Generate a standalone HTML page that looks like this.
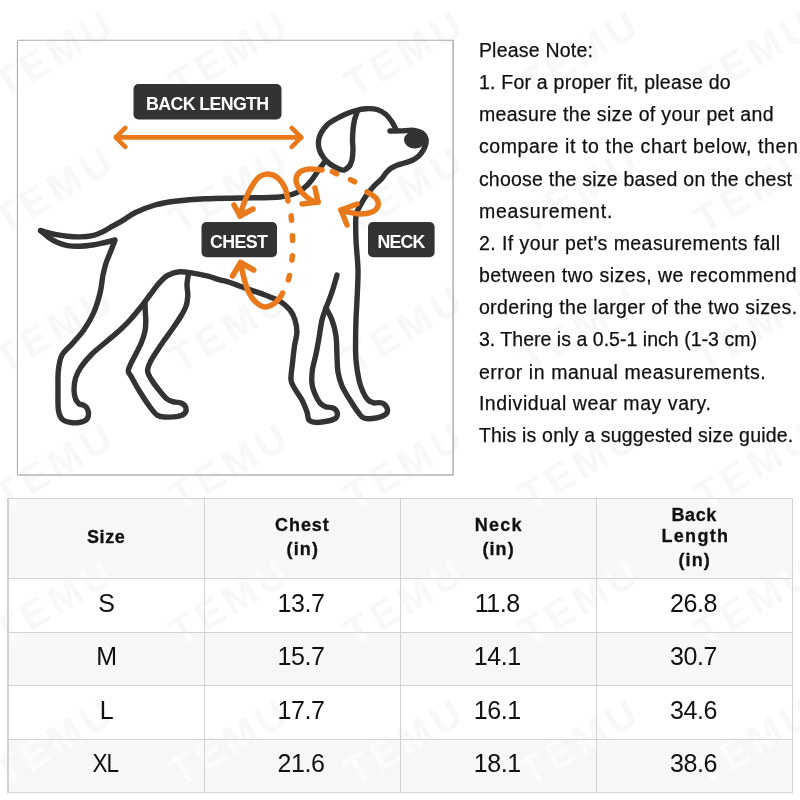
<!DOCTYPE html>
<html>
<head>
<meta charset="utf-8">
<title>Size Guide</title>
<style>
html,body{margin:0;padding:0;}
body{will-change:opacity;opacity:0.999;width:800px;height:800px;background:#fff;position:relative;overflow:hidden;font-family:"Liberation Sans",sans-serif;color:#111;}
.wm{position:absolute;font-weight:bold;font-size:40px;letter-spacing:5px;color:#f8f8f8;white-space:nowrap;transform:translate(-50%,-50%) rotate(-30.5deg);line-height:40px;}
#box{display:none;}
#art{position:absolute;left:0;top:0;width:800px;height:800px;}
.ln{position:absolute;left:480px;white-space:nowrap;font-size:19.5px;line-height:24px;height:24px;color:#111;-webkit-text-stroke:0.25px #111;}
#tbl{position:absolute;left:0;top:0;width:800px;height:800px;}
.cell{position:absolute;box-sizing:border-box;}
.wl{color:#fcfcfc;}
.hd{position:absolute;white-space:nowrap;-webkit-text-stroke:0.3px #111;font-weight:bold;font-size:18px;line-height:22px;height:22px;color:#111;}
.v{position:absolute;text-align:center;font-size:25px;line-height:30px;height:30px;color:#111;letter-spacing:-0.4px;}
</style>
</head>
<body>
<!-- watermarks -->
<div id="wms">
<div class="wm" style="left:55px;top:53px">TEMU</div>
<div class="wm" style="left:230px;top:53px">TEMU</div>
<div class="wm" style="left:405px;top:53px">TEMU</div>
<div class="wm" style="left:580px;top:53px">TEMU</div>
<div class="wm" style="left:755px;top:53px">TEMU</div>
<div class="wm" style="left:55px;top:189px">TEMU</div>
<div class="wm" style="left:230px;top:189px">TEMU</div>
<div class="wm" style="left:405px;top:189px">TEMU</div>
<div class="wm" style="left:580px;top:189px">TEMU</div>
<div class="wm" style="left:755px;top:189px">TEMU</div>
<div class="wm" style="left:55px;top:328px">TEMU</div>
<div class="wm" style="left:230px;top:328px">TEMU</div>
<div class="wm" style="left:405px;top:328px">TEMU</div>
<div class="wm" style="left:580px;top:328px">TEMU</div>
<div class="wm" style="left:755px;top:328px">TEMU</div>
<div class="wm" style="left:55px;top:465px">TEMU</div>
<div class="wm" style="left:230px;top:465px">TEMU</div>
<div class="wm" style="left:405px;top:465px">TEMU</div>
<div class="wm" style="left:580px;top:465px">TEMU</div>
<div class="wm" style="left:755px;top:465px">TEMU</div>
<div class="wm" style="left:55px;top:601px">TEMU</div>
<div class="wm" style="left:230px;top:601px">TEMU</div>
<div class="wm" style="left:405px;top:601px">TEMU</div>
<div class="wm" style="left:580px;top:601px">TEMU</div>
<div class="wm" style="left:755px;top:601px">TEMU</div>
<div class="wm" style="left:55px;top:741px">TEMU</div>
<div class="wm" style="left:230px;top:741px">TEMU</div>
<div class="wm" style="left:405px;top:741px">TEMU</div>
<div class="wm" style="left:580px;top:741px">TEMU</div>
<div class="wm" style="left:755px;top:741px">TEMU</div>
</div><!--/wms-->
<div id="box"></div>
<svg id="art" viewBox="0 0 800 800">
<path d="M17.4 475V41.8Q17.4 40.3 18.9 40.3H453.1" fill="none" stroke="#adadad" stroke-width="1.1"/><path d="M453.1 40V475H17.3" fill="none" stroke="#b5b5b5" stroke-width="1.6"/>
<g fill="none" stroke="#333333" stroke-width="5.4" stroke-linecap="round" stroke-linejoin="round">
<path d="M40.6 230.6C43.0 231.2 50.5 233.5 55.0 234.4C59.5 235.3 63.3 235.8 67.5 236.2C71.7 236.7 75.8 237.0 80.0 236.9C84.2 236.8 88.8 236.4 92.5 235.6C96.2 234.8 99.2 233.5 102.5 231.9C105.8 230.3 109.2 228.1 112.5 226.2C115.8 224.4 118.8 222.8 122.5 220.6C126.2 218.4 129.6 215.4 135.0 212.8C140.4 210.2 148.3 206.9 155.0 205.0C161.7 203.1 166.7 202.3 175.0 201.2C183.3 200.2 194.2 199.3 205.0 198.8C215.8 198.2 227.5 198.3 240.0 198.0C252.5 197.7 270.7 197.8 280.0 197.0C289.3 196.2 292.0 194.5 296.0 193.0C300.0 191.5 301.5 190.0 304.0 188.0C306.5 186.0 308.7 183.8 311.0 181.0C313.3 178.2 315.7 174.3 318.0 171.0C320.3 167.7 323.8 162.9 325.0 161.3"/>
<path d="M40.6 230.6C42.0 231.8 45.9 235.5 48.8 237.5C51.6 239.5 54.4 241.2 57.5 242.5C60.6 243.8 63.8 245.0 67.5 245.6C71.2 246.2 75.8 246.3 80.0 246.2C84.2 246.2 88.3 245.6 92.5 245.0C96.7 244.4 101.2 243.3 105.0 242.5C108.8 241.7 113.3 240.4 115.0 240.0C114.4 241.7 112.7 246.2 111.2 250.0C109.8 253.8 107.6 258.3 106.2 262.5C104.9 266.7 104.0 270.1 103.0 275.0C102.0 279.9 101.8 285.8 100.3 292.0C98.8 298.2 96.5 306.2 93.8 312.5C91.0 318.8 87.4 324.8 83.8 330.0C80.1 335.2 75.6 339.8 72.0 344.0C68.4 348.2 64.3 350.7 62.0 355.0C59.7 359.3 59.1 364.2 58.4 370.0C57.7 375.8 58.0 383.3 58.0 390.0C58.0 396.7 57.7 405.2 58.4 410.0C59.1 414.8 60.1 416.9 62.0 419.0C63.9 421.1 67.0 421.8 70.0 422.4C73.0 423.0 77.2 423.0 80.0 422.4C82.8 421.8 85.6 420.7 87.0 419.0C88.4 417.3 88.7 414.2 88.4 412.0C88.1 409.8 86.6 407.3 85.0 406.0C83.4 404.7 80.0 404.3 79.0 404.0C78.4 403.2 76.4 401.3 75.6 399.0C74.8 396.7 74.0 393.5 74.0 390.0C74.0 386.5 74.4 381.8 75.6 378.0C76.8 374.2 78.3 371.0 81.0 367.0C83.7 363.0 87.8 358.2 92.0 354.0C96.2 349.8 101.3 346.0 106.0 342.0C110.7 338.0 116.0 333.7 120.0 330.0C124.0 326.3 126.2 324.2 130.0 320.0C133.8 315.8 139.0 309.4 142.5 305.0C146.0 300.6 148.1 297.3 151.0 293.5C153.9 289.7 157.2 285.2 160.0 282.2C162.8 279.2 164.2 277.2 167.5 275.5C170.8 273.8 175.2 272.1 179.5 271.8C183.8 271.4 188.2 272.5 193.0 273.2C197.8 274.0 203.5 275.2 208.0 276.2C212.5 277.3 216.3 278.8 220.0 279.8C223.7 280.8 226.7 281.4 230.0 282.5C233.3 283.6 236.2 284.9 240.0 286.2C243.8 287.6 248.3 289.1 252.5 290.6C256.7 292.1 260.4 293.2 265.0 295.0C269.6 296.8 275.8 298.8 280.0 301.2C284.2 303.8 287.5 306.9 290.0 310.0C292.5 313.1 293.9 316.2 295.0 320.0C296.1 323.8 297.0 328.2 296.9 332.5C296.8 336.8 295.2 340.8 294.5 346.0C293.8 351.2 293.0 358.3 292.4 364.0C291.8 369.7 290.6 375.8 291.0 380.0C291.4 384.2 293.2 385.7 295.0 389.0C296.8 392.3 300.0 396.2 302.0 400.0C304.0 403.8 305.8 408.7 307.0 412.0C308.2 415.3 307.5 418.3 309.0 420.0C310.5 421.7 312.8 422.2 316.0 422.4C319.2 422.6 324.7 421.7 328.0 421.0C331.3 420.3 334.5 419.5 336.0 418.0C337.5 416.5 337.5 413.7 337.0 412.0C336.5 410.3 334.8 408.8 333.0 408.0C331.2 407.2 327.2 407.2 326.0 407.0C325.0 406.3 321.8 405.2 320.0 403.0C318.2 400.8 316.3 397.2 315.0 394.0C313.7 390.8 312.4 388.0 312.0 384.0C311.6 380.0 311.7 375.0 312.4 370.0C313.1 365.0 314.9 359.3 316.0 354.0C317.1 348.7 318.0 343.7 319.0 338.0C320.0 332.3 320.8 325.0 322.0 320.0C323.2 315.0 324.3 312.7 326.0 308.0C327.7 303.3 330.2 297.5 332.0 292.0C333.8 286.5 336.2 277.8 337.0 275.0"/>
<path d="M145.0 302.5C145.0 303.8 145.1 307.0 145.2 310.0C145.3 313.0 145.8 317.0 145.8 320.5C145.7 324.0 145.8 327.2 145.0 331.0C144.2 334.8 143.0 338.8 141.2 343.0C139.5 347.2 136.4 352.7 134.5 356.5C132.6 360.3 130.8 363.5 129.8 366.0C128.8 368.5 127.9 369.5 128.3 371.5C128.7 373.5 130.1 374.6 132.0 378.0C133.9 381.4 137.0 387.2 140.0 392.0C143.0 396.8 147.2 403.2 150.0 407.0C152.8 410.8 154.7 413.3 157.0 415.0C159.3 416.7 160.5 416.8 164.0 417.0C167.5 417.2 174.5 417.1 178.0 416.4C181.5 415.7 183.7 414.6 185.0 413.0C186.3 411.4 186.3 408.7 185.6 407.0C184.9 405.3 182.9 403.8 181.0 403.0C179.1 402.2 175.2 402.2 174.0 402.0C172.8 401.5 169.5 401.0 167.0 399.0C164.5 397.0 161.7 393.3 159.0 390.0C156.3 386.7 152.9 382.2 151.0 379.0C149.1 375.8 147.8 373.7 147.6 371.0C147.4 368.3 148.4 366.2 149.8 363.0C151.2 359.8 153.9 355.8 156.3 352.0C158.7 348.2 161.4 344.2 164.0 340.5C166.6 336.8 169.2 333.6 172.0 329.5C174.8 325.4 178.6 320.0 181.0 316.0C183.4 312.0 185.1 309.0 186.2 305.5C187.4 302.0 187.6 298.5 187.8 295.0C187.9 291.5 186.9 288.0 187.0 284.5C187.1 281.0 188.2 275.8 188.5 274.0"/>
<path d="M326.0 308.0C327.0 310.0 330.3 315.3 332.0 320.0C333.7 324.7 335.2 330.0 336.0 336.0C336.8 342.0 336.7 350.0 337.0 356.0C337.3 362.0 337.2 367.0 338.0 372.0C338.8 377.0 340.0 381.3 342.0 386.0C344.0 390.7 347.3 395.7 350.0 400.0C352.7 404.3 355.7 409.0 358.0 412.0C360.3 415.0 361.0 417.0 364.0 418.0C367.0 419.0 372.3 418.7 376.0 418.0C379.7 417.3 384.2 415.7 386.0 414.0C387.8 412.3 387.7 409.8 387.0 408.0C386.3 406.2 384.2 403.8 382.0 403.0C379.8 402.2 375.3 403.0 374.0 403.0C373.0 402.5 369.8 401.8 368.0 400.0C366.2 398.2 364.5 395.3 363.0 392.0C361.5 388.7 360.2 385.3 359.0 380.0C357.8 374.7 356.6 366.7 356.0 360.0C355.4 353.3 355.6 346.7 355.6 340.0C355.6 333.3 355.8 326.7 356.0 320.0C356.2 313.3 356.7 308.3 357.0 300.0C357.3 291.7 358.2 280.0 358.0 270.0C357.8 260.0 356.3 249.0 356.0 240.0C355.7 231.0 355.3 221.7 356.0 216.0C356.7 210.3 358.3 209.3 360.0 206.0C361.7 202.7 363.7 199.3 366.0 196.0C368.3 192.7 371.5 188.8 374.0 186.0C376.5 183.2 379.0 181.7 381.0 179.5C383.0 177.3 384.3 174.9 386.0 173.0C387.7 171.1 389.2 169.6 391.0 168.3C392.8 167.0 394.7 166.2 397.0 165.3C399.3 164.4 402.3 163.7 405.0 162.8C407.7 161.9 410.7 161.2 413.0 160.0C415.3 158.8 417.3 157.4 419.0 155.8C420.7 154.2 421.9 152.3 423.0 150.5C424.1 148.7 425.0 146.9 425.5 145.0C426.0 143.1 426.6 141.0 426.0 139.0C425.4 137.0 424.0 134.4 422.0 133.0C420.0 131.6 417.0 130.8 414.0 130.4C411.0 130.0 405.7 130.7 404.0 130.8L390 131"/>
<path d="M349.5 166.0C348.7 166.7 346.2 169.5 344.5 170.0C342.8 170.5 341.4 170.0 339.0 169.0C336.6 168.0 332.6 165.9 330.0 164.0C327.4 162.1 325.2 159.8 323.5 157.5C321.8 155.2 320.4 152.6 319.5 150.0C318.6 147.4 318.2 144.7 318.4 142.0C318.6 139.3 319.1 136.8 320.5 134.0C321.9 131.2 324.4 127.5 327.0 125.0C329.6 122.5 332.8 120.8 336.0 119.0C339.2 117.2 342.7 115.4 346.0 114.0C349.3 112.6 352.7 111.4 356.0 110.5C359.3 109.6 362.5 108.9 366.0 108.7C369.5 108.5 373.7 108.5 377.0 109.5C380.3 110.5 383.5 112.4 386.0 114.5C388.5 116.6 390.2 119.3 392.0 122.0C393.8 124.7 395.8 129.1 396.5 130.5"/>
<path d="M357.0 112.5C356.6 113.8 355.2 117.1 354.5 120.0C353.8 122.9 353.3 126.7 353.0 130.0C352.7 133.3 352.5 136.7 352.5 140.0C352.5 143.3 353.1 146.7 353.0 150.0C352.9 153.3 352.6 157.3 352.0 160.0C351.4 162.7 349.9 165.0 349.5 166.0"/>
</g>
<ellipse cx="414.8" cy="139.8" rx="10.8" ry="8.7" fill="#333333"/>
<g fill="none" stroke="#e9791b" stroke-width="5.5" stroke-linecap="round" stroke-linejoin="round">
<path stroke-width="4.6" d="M116 137.4H301.2"/>
<path stroke-width="4.6" d="M125.3 127.9L115.8 137.4L125.3 146.9"/>
<path stroke-width="4.6" d="M291.7 127.9L301.2 137.4L291.7 146.9"/>
<path d="M288.0 201.0C287.5 198.8 286.7 191.8 285.0 188.0C283.3 184.2 280.8 180.3 278.0 178.0C275.2 175.7 271.2 174.2 268.0 174.0C264.8 173.8 261.7 175.0 259.0 177.0C256.3 179.0 254.2 182.5 252.0 186.0C249.8 189.5 247.8 193.7 246.0 198.0C244.2 202.3 242.0 209.0 241.0 212.0C240.0 215.0 240.2 215.3 240.0 216.0"/>
<path d="M234 205L240 216L253 209"/>
<path d="M322.0 170.0C320.0 169.8 313.7 168.7 310.0 169.0C306.3 169.3 302.3 170.2 300.0 172.0C297.7 173.8 296.0 177.0 296.0 180.0C296.0 183.0 298.0 187.0 300.0 190.0C302.0 193.0 305.7 196.1 308.0 198.0C310.3 199.9 312.3 200.9 314.0 201.6C315.7 202.3 317.3 201.9 318.0 202.0"/>
<path d="M315 188L318 202L302 204"/>
<path d="M367.0 192.0C368.5 193.0 374.2 195.7 376.0 198.0C377.8 200.3 378.7 203.7 378.0 206.0C377.3 208.3 375.0 210.7 372.0 212.0C369.0 213.3 364.0 214.0 360.0 214.0C356.0 214.0 351.2 212.7 348.0 212.0C344.8 211.3 342.2 210.3 341.0 210.0"/>
<path d="M357 204L341 210L347 225"/>
<path d="M240.6 262.5C241.1 265.0 242.4 272.5 243.8 277.5C245.1 282.5 246.7 288.3 248.8 292.5C250.8 296.7 253.5 300.1 256.2 302.5C259.0 304.9 262.1 306.7 265.0 306.9C267.9 307.1 271.2 305.3 273.8 303.8C276.2 302.2 278.5 299.3 280.0 297.5C281.5 295.7 282.1 293.8 282.5 293.0"/>
<path d="M232.5 276L240.6 262.5L253.75 270"/>
<path d="M288.0 201.0C288.5 203.3 290.3 209.3 291.0 215.0C291.7 220.7 292.2 228.3 292.4 235.0C292.6 241.7 292.9 248.3 292.4 255.0C291.9 261.7 290.7 269.8 289.6 275.0C288.5 280.2 287.2 283.0 286.0 286.0C284.8 289.0 283.1 291.8 282.5 293.0" stroke-dasharray="4.5 15.4" stroke-dashoffset="-15.3"/>
<path d="M332.4 171.6L336.6 173.8M350.4 179.6L354.6 181.8"/>
</g>
<rect x="133.5" y="84" width="148" height="35.5" rx="5" fill="#333"/><text x="207.3" y="109.8" font-family="Liberation Sans, sans-serif" font-weight="bold" font-size="17.8" fill="#fff" text-anchor="middle" letter-spacing="-0.62">BACK LENGTH</text>
<rect x="201.5" y="222" width="75.5" height="35.3" rx="5" fill="#333"/><text x="238.6" y="247.8" font-family="Liberation Sans, sans-serif" font-weight="bold" font-size="17.8" fill="#fff" text-anchor="middle" letter-spacing="-0.6">CHEST</text>
<rect x="368" y="222" width="66.6" height="35.3" rx="5" fill="#333"/><text x="401.0" y="247.8" font-family="Liberation Sans, sans-serif" font-weight="bold" font-size="17.8" fill="#fff" text-anchor="middle" letter-spacing="-0.9">NECK</text>
</svg>
<div id="txt">
<div class="ln" id="l0" style="left:478.9px;top:38.2px;letter-spacing:0.217px">Please Note:</div>
<div class="ln" id="l1" style="left:478.9px;top:70.2px;letter-spacing:0.232px">1. For a proper fit, please do</div>
<div class="ln" id="l2" style="left:478.9px;top:102.2px;letter-spacing:0.344px">measure the size of your pet and</div>
<div class="ln" id="l3" style="left:478.9px;top:134.2px;letter-spacing:0.613px">compare it to the chart below, then</div>
<div class="ln" id="l4" style="left:478.9px;top:167.2px;letter-spacing:0.225px">choose the size based on the chest</div>
<div class="ln" id="l5" style="left:478.9px;top:199.2px;letter-spacing:0.804px">measurement.</div>
<div class="ln" id="l6" style="left:478.9px;top:231.2px;letter-spacing:0.440px">2. If your pet&#39;s measurements fall</div>
<div class="ln" id="l7" style="left:478.9px;top:263.2px;letter-spacing:0.474px">between two sizes, we recommend</div>
<div class="ln" id="l8" style="left:478.9px;top:295.2px;letter-spacing:0.379px">ordering the larger of the two sizes.</div>
<div class="ln" id="l9" style="left:478.9px;top:327.2px;letter-spacing:0.032px">3. There is a 0.5-1 inch (1-3 cm)</div>
<div class="ln" id="l10" style="left:478.9px;top:359.8px;letter-spacing:0.564px">error in manual measurements.</div>
<div class="ln" id="l11" style="left:478.9px;top:391.2px;letter-spacing:0.560px">Individual wear may vary.</div>
<div class="ln" id="l12" style="left:478.9px;top:423.2px;letter-spacing:0.184px">This is only a suggested size guide.</div>
</div><!--/txt-->
<div id="tbl">
<div class="cell" style="left:8.00px;top:498.10px;width:784.75px;height:80.30px;background:#f7f7f7;overflow:hidden"><div class="wm wl" style="left:47.0px;top:-33.1px">TEMU</div><div class="wm wl" style="left:222.0px;top:-33.1px">TEMU</div><div class="wm wl" style="left:397.0px;top:-33.1px">TEMU</div><div class="wm wl" style="left:572.0px;top:-33.1px">TEMU</div><div class="wm wl" style="left:747.0px;top:-33.1px">TEMU</div><div class="wm wl" style="left:47.0px;top:102.9px">TEMU</div><div class="wm wl" style="left:222.0px;top:102.9px">TEMU</div><div class="wm wl" style="left:397.0px;top:102.9px">TEMU</div><div class="wm wl" style="left:572.0px;top:102.9px">TEMU</div><div class="wm wl" style="left:747.0px;top:102.9px">TEMU</div></div>
<div class="cell" style="left:8.00px;top:632.40px;width:784.75px;height:53.30px;background:#f7f7f7;overflow:hidden"><div class="wm wl" style="left:47.0px;top:-31.4px">TEMU</div><div class="wm wl" style="left:222.0px;top:-31.4px">TEMU</div><div class="wm wl" style="left:397.0px;top:-31.4px">TEMU</div><div class="wm wl" style="left:572.0px;top:-31.4px">TEMU</div><div class="wm wl" style="left:747.0px;top:-31.4px">TEMU</div></div>
<div class="cell" style="left:8.00px;top:739.40px;width:784.75px;height:53.10px;background:#f7f7f7;overflow:hidden"><div class="wm wl" style="left:47.0px;top:1.6px">TEMU</div><div class="wm wl" style="left:222.0px;top:1.6px">TEMU</div><div class="wm wl" style="left:397.0px;top:1.6px">TEMU</div><div class="wm wl" style="left:572.0px;top:1.6px">TEMU</div><div class="wm wl" style="left:747.0px;top:1.6px">TEMU</div></div>
<div class="cell" style="left:7.45px;top:497.55px;width:1.10px;height:295.50px;background:#d3d3d3"></div>
<div class="cell" style="left:203.65px;top:497.55px;width:1.10px;height:295.50px;background:#d3d3d3"></div>
<div class="cell" style="left:399.85px;top:497.55px;width:1.10px;height:295.50px;background:#d3d3d3"></div>
<div class="cell" style="left:596.05px;top:497.55px;width:1.10px;height:295.50px;background:#d3d3d3"></div>
<div class="cell" style="left:792.20px;top:497.55px;width:1.10px;height:295.50px;background:#d3d3d3"></div>
<div class="cell" style="left:7.45px;top:497.55px;width:785.85px;height:1.10px;background:#d3d3d3"></div>
<div class="cell" style="left:7.45px;top:577.85px;width:785.85px;height:1.10px;background:#d3d3d3"></div>
<div class="cell" style="left:7.45px;top:631.85px;width:785.85px;height:1.10px;background:#d3d3d3"></div>
<div class="cell" style="left:7.45px;top:685.15px;width:785.85px;height:1.10px;background:#d3d3d3"></div>
<div class="cell" style="left:7.45px;top:738.85px;width:785.85px;height:1.10px;background:#d3d3d3"></div>
<div class="cell" style="left:7.45px;top:791.95px;width:785.85px;height:1.10px;background:#d3d3d3"></div>
<div class="hd" id="h0" style="left:87.00px;top:526.00px;letter-spacing:0.600px">Size</div>
<div class="hd" id="h1" style="left:275.08px;top:514.25px;letter-spacing:0.915px">Chest</div>
<div class="hd" id="h2" style="left:286.50px;top:537.75px;letter-spacing:1.170px">(in)</div>
<div class="hd" id="h3" style="left:474.65px;top:514.25px;letter-spacing:1.275px">Neck</div>
<div class="hd" id="h4" style="left:482.50px;top:537.75px;letter-spacing:1.050px">(in)</div>
<div class="hd" id="h5" style="left:671.50px;top:503.50px;letter-spacing:0.600px">Back</div>
<div class="hd" id="h6" style="left:661.50px;top:525.40px;letter-spacing:1.302px">Length</div>
<div class="hd" id="h7" style="left:678.40px;top:548.50px;letter-spacing:1.140px">(in)</div>
<div class="v" style="left:8.3px;top:588.4px;width:196.2px">S</div>
<div class="v" style="left:203.0px;top:588.4px;width:196.2px">13.7</div>
<div class="v" style="left:399.2px;top:588.4px;width:196.2px">11.8</div>
<div class="v" style="left:595.4px;top:588.4px;width:196.1px">26.8</div>
<div class="v" style="left:8.3px;top:641.4px;width:196.2px">M</div>
<div class="v" style="left:203.0px;top:641.4px;width:196.2px">15.7</div>
<div class="v" style="left:399.2px;top:641.4px;width:196.2px">14.1</div>
<div class="v" style="left:595.4px;top:641.4px;width:196.1px">30.7</div>
<div class="v" style="left:8.3px;top:695.4px;width:196.2px">L</div>
<div class="v" style="left:203.0px;top:695.4px;width:196.2px">17.7</div>
<div class="v" style="left:399.2px;top:695.4px;width:196.2px">16.1</div>
<div class="v" style="left:595.4px;top:695.4px;width:196.1px">34.6</div>
<div class="v" style="left:7.4px;top:748.4px;width:196.2px"><span style="display:inline-block;transform:scaleX(0.9);letter-spacing:-1px">XL</span></div>
<div class="v" style="left:203.0px;top:748.4px;width:196.2px">21.6</div>
<div class="v" style="left:399.2px;top:748.4px;width:196.2px">18.1</div>
<div class="v" style="left:595.4px;top:748.4px;width:196.1px">38.6</div>
</div><!--/tbl-->
</body>
</html>
